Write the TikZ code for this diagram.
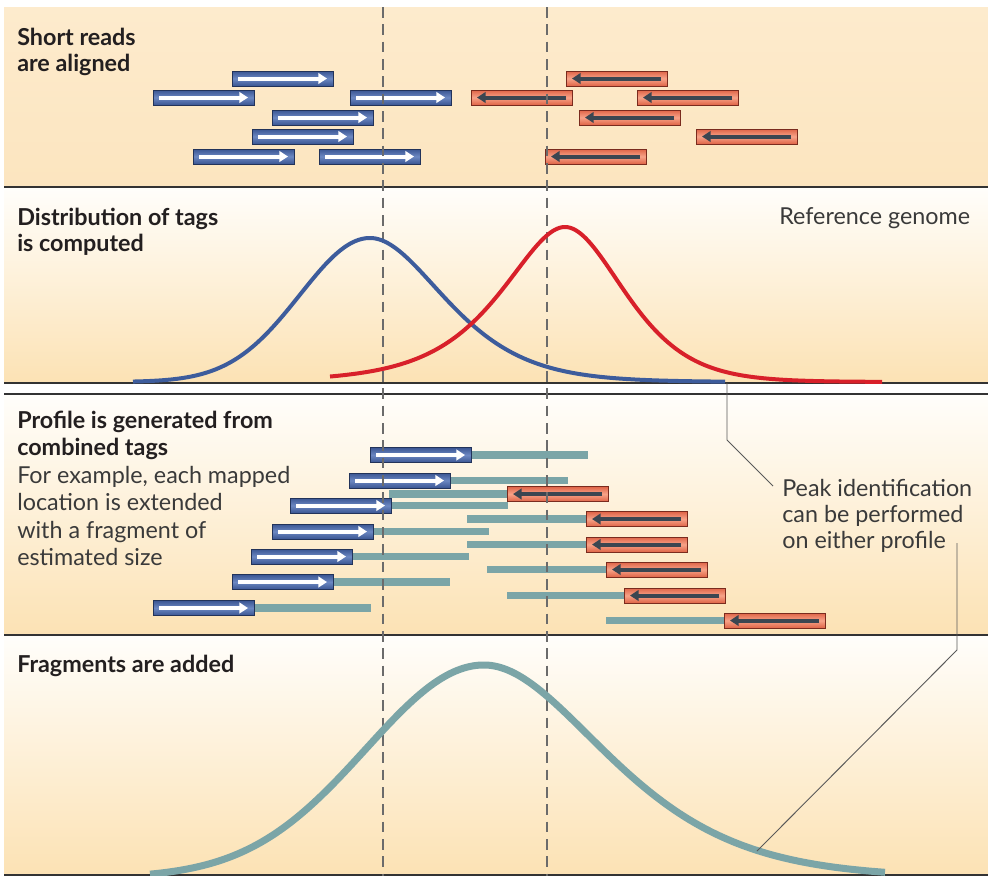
\documentclass[tikz,border=0pt]{standalone}
\usepackage{fontspec}
\setmainfont{Lato}
\usetikzlibrary{arrows.meta}
\definecolor{beigeA}{HTML}{FDEBCD}
\definecolor{beigeB}{HTML}{FCE5BF}
\definecolor{beigeC}{HTML}{FCE2B4}
\definecolor{paleTop}{HTML}{FFFEFB}
\definecolor{blueEdge}{HTML}{3A5592}
\definecolor{blueMid}{HTML}{6C88C2}
\definecolor{blueLine}{HTML}{22335A}
\definecolor{redEdge}{HTML}{DF6447}
\definecolor{redMid}{HTML}{F7A388}
\definecolor{redLine}{HTML}{7A2B1E}
\definecolor{redArrow}{HTML}{3B4651}
\definecolor{tealbar}{HTML}{7BA5A7}
\definecolor{blueCurve}{HTML}{3D5C9C}
\definecolor{redCurve}{HTML}{D8202A}
\definecolor{dashGray}{HTML}{6B6B6B}
\definecolor{ruleGray}{HTML}{333333}
\definecolor{textDark}{HTML}{231F20}
\definecolor{textReg}{HTML}{3A3A3A}
\newcommand{\fread}[2]{%
  \shade[draw=blueLine, line width=0.7pt, top color=blueEdge, bottom color=blueEdge, middle color=blueMid] (#1,#2-7.5) rectangle ++(101,15);
  \draw[white, line width=3pt, -{Triangle[length=6.5pt,width=8pt]}] (#1+6,#2) -- (#1+95,#2);
}
\newcommand{\rread}[2]{%
  \shade[draw=redLine, line width=0.7pt, top color=redEdge, bottom color=redEdge, middle color=redMid] (#1,#2-7.5) rectangle ++(101,15);
  \draw[redArrow, line width=3pt, -{Triangle[length=6.5pt,width=8pt]}] (#1+95,#2) -- (#1+6,#2);
}
\newcommand{\tbar}[3]{%
  \fill[tealbar] (#1,#3-3.6) rectangle (#2,#3+3.6);
}
\tikzset{
  heading/.style={anchor=base west, inner sep=0pt, text=textDark, font=\fontsize{17.5}{21}\selectfont\bfseries},
  plain/.style={anchor=base west, inner sep=0pt, text=textReg, font=\fontsize{17.5}{21}\selectfont},
  panelrule/.style={draw=ruleGray, line width=1.2pt},
  guide/.style={draw=dashGray, line width=1.1pt, dash pattern=on 8pt off 5pt},
  callout/.style={draw=black!65, line width=0.7pt},
  curve/.style={line width=3pt, samples=120, variable=\t},
}
\begin{document}
\begin{tikzpicture}[x=0.75pt,y=-0.75pt]
\useasboundingbox (0,0) rectangle (988,876);
\fill[white] (0,0) rectangle (988,876);
% panel backgrounds
\shade[top color=beigeA, bottom color=beigeB] (4,7) rectangle (988,187);
\shade[top color=paleTop, bottom color=beigeC] (4,187) rectangle (988,383);
\shade[top color=paleTop, bottom color=beigeC] (4,394) rectangle (988,635);
\shade[top color=paleTop, bottom color=beigeC] (4,635) rectangle (988,875);
% panel rules
\draw[panelrule] (4,187) -- (988,187);
\draw[panelrule] (4,383) -- (988,383);
\draw[panelrule, line width=1pt] (4,394) -- (988,394);
\draw[panelrule] (4,635) -- (988,635);
\draw[panelrule] (4,875) -- (988,875);

% panel 1 reads
\fread{232}{78.5}
\fread{153}{97.5}
\fread{350}{97.5}
\fread{272}{117.5}
\fread{252}{136.5}
\fread{193}{156.5}
\fread{319}{156.5}
\rread{566}{78.5}
\rread{471}{97.5}
\rread{637}{97.5}
\rread{579}{117.5}
\rread{696}{136.5}
\rread{545}{156.5}

% panel 3 fragments
\tbar{471}{588}{455}
\tbar{450}{568}{480.5}
\tbar{389}{507}{494}
\tbar{391}{508}{505.5}
\tbar{467}{586}{519}
\tbar{372}{489}{531.5}
\tbar{467}{586}{544.5}
\tbar{351}{469}{556.5}
\tbar{487}{606}{569.5}
\tbar{332}{450}{582}
\tbar{507}{624}{595.5}
\tbar{253}{371}{608}
\tbar{606}{724}{620.5}
\fread{370}{455}
\fread{349}{480.5}
\fread{290}{505.5}
\fread{272}{531.5}
\fread{251}{556.5}
\fread{232}{582}
\fread{153}{608}
\rread{507}{494}
\rread{586}{519}
\rread{586}{544.5}
\rread{606}{569.5}
\rread{624}{595.5}
\rread{724}{620.5}

% dashed guides
\draw[guide] (383,7) -- (383,876);
\draw[guide] (547,7) -- (547,876);

% panel 2 curves
\draw[blueCurve, curve]
  plot[domain=133:370] (\t, {382-144*exp(-0.5*((370-\t)/70)^2)})
  -- plot[domain=370:725] (\t, {382-144*exp(-0.5*((\t-370)/(64+0.11*(\t-370)))^2)});
\draw[redCurve, curve]
  plot[domain=330:565] (\t, {382-155*exp(-0.5*((565-\t)/(51+0.17*(565-\t)))^2)})
  -- plot[domain=565:882] (\t, {382-155*exp(-0.5*((\t-565)/(51+0.11*(\t-565)))^2)});

% panel 4 curve
\begin{scope}
\clip (4,635) rectangle (988,875);
\draw[tealbar, curve, line width=5.25pt]
  plot[domain=150:484] (\t, {878-213*exp(-0.5*((484-\t)/118)^2)})
  -- plot[domain=484:885] (\t, {878-213*exp(-0.5*((\t-484)/(105+0.11*(\t-484)))^2)});
\end{scope}

% texts
\node[heading] (h1a) at (17,45) {Short reads};
\node[heading] (h1b) at (17,71) {are aligned};
\node[heading] (h2a) at (17,225) {Distribution of tags};
\node[heading] (h2b) at (17,251) {is computed};
\node[plain] (refg) at (779,224) {Reference genome};
\node[heading] (h3a) at (17,428) {Profile is generated from};
\node[heading] (h3b) at (17,455.5) {combined tags};
\node[plain] (t3a) at (17,483) {For example, each mapped};
\node[plain] (t3b) at (17,510.5) {location is extended};
\node[plain] (t3c) at (17,538) {with a fragment of};
\node[plain] (t3d) at (17,565) {estimated size};
\node[heading] (h4a) at (17,672) {Fragments are added};
\node[plain] (pk1) at (782,496) {Peak identification};
\node[plain] (pk2) at (782,522) {can be performed};
\node[plain] (pk3) at (782,548) {on either profile};

% callouts
\coordinate (blueEnd) at (727,383);
\coordinate (bend1) at (727,440);
\coordinate (pkA) at (773,486);
\coordinate (pkB) at (957,543);
\coordinate (bend2) at (957,650);
\coordinate (tealPt) at (757,851);
\draw[callout] (blueEnd) -- (bend1) -- (pkA);
\draw[callout] (pkB) -- (bend2) -- (tealPt);
\end{tikzpicture}
\end{document}
